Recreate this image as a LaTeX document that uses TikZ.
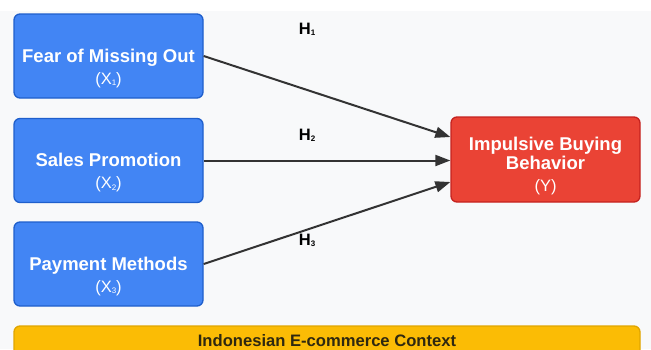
\documentclass[tikz,border=0pt]{standalone}
\usepackage{fontspec}
\setmainfont{Liberation Sans}
\usetikzlibrary{arrows.meta}
\definecolor{pagebg}{HTML}{F8F9FA}
\definecolor{varfill}{HTML}{4285F4}
\definecolor{vardraw}{HTML}{1F5FCC}
\definecolor{depfill}{HTML}{EA4335}
\definecolor{depdraw}{HTML}{C5221F}
\definecolor{ctxfill}{HTML}{FBBC05}
\definecolor{ctxdraw}{HTML}{E0A500}
\definecolor{ctxtext}{HTML}{2E2810}
\definecolor{arrowgray}{HTML}{333333}
\newcommand{\lowidx}[1]{\raisebox{-1.5pt}{\fontsize{8}{8}\selectfont #1}}

\begin{document}
\begin{tikzpicture}[x=1pt,y=-1pt,
  box/.style={rounded corners=6pt,line width=1.3pt,inner sep=0pt,
    minimum width=189pt,minimum height=84pt},
  varbox/.style={box,fill=varfill,draw=vardraw},
  depbox/.style={box,fill=depfill,draw=depdraw,minimum height=85pt},
  ctxbox/.style={box,fill=ctxfill,draw=ctxdraw,minimum width=626pt,minimum height=34pt},
  ttl/.style={anchor=base,inner sep=0pt,text=white,
    font=\fontsize{18.5}{19}\selectfont\bfseries},
  sym/.style={anchor=base,inner sep=0pt,text=white,font=\fontsize{16.5}{18}\selectfont},
  hyp/.style={anchor=base west,inner sep=0pt,text=black,
    font=\fontsize{16.5}{18}\selectfont\bfseries},
  arr/.style={draw=arrowgray,line width=2pt,-{Triangle[length=15pt,width=11pt]}}]

  \useasboundingbox (0,0) rectangle (651,349);
  \fill[white] (0,0) rectangle (651,349);
  \fill[pagebg] (0,11) rectangle (651,349);

  % boxes
  \node[varbox] (fomo)  at (108.5,56)    {};
  \node[varbox] (promo) at (108.5,160.5) {};
  \node[varbox] (pay)   at (108.5,264)   {};
  \node[depbox] (ibb)   at (545.5,159.5) {};
  \node[ctxbox] (ctx)   at (327,343)     {};

  % box texts
  \node[ttl] (fomo-t)  at ([yshift=-6pt]fomo.center)   {Fear of Missing Out};
  \node[sym] (fomo-s)  at ([yshift=-28pt]fomo.center)  {(X\lowidx{1})};
  \node[ttl] (promo-t) at ([yshift=-6pt]promo.center)  {Sales Promotion};
  \node[sym] (promo-s) at ([yshift=-28pt]promo.center) {(X\lowidx{2})};
  \node[ttl] (pay-t)   at ([yshift=-6pt]pay.center)    {Payment Methods};
  \node[sym] (pay-s)   at ([yshift=-28pt]pay.center)   {(X\lowidx{3})};
  \node[ttl,anchor=center,align=center] (ibb-t) at ([yshift=6.5pt]ibb.center)
    {Impulsive Buying\\Behavior};
  \node[sym] (ibb-s)   at ([yshift=-31.5pt]ibb.center) {(Y)};
  \node[anchor=base,inner sep=0pt,text=ctxtext,font=\fontsize{16.6}{18}\selectfont\bfseries]
    (ctx-t) at ([yshift=-3.5pt]ctx.center) {Indonesian E-commerce Context};

  % paths
  \draw[arr] (fomo.east)  -- ([yshift=22.5pt]ibb.west);
  \draw[arr] (promo.east) -- (promo.east -| ibb.west);
  \draw[arr] (pay.east)   -- ([yshift=-22.5pt]ibb.west);

  \node[hyp] (h1) at ([shift={(95,-22)}]fomo.east)    {H\lowidx{1}};
  \node[hyp] (h2) at ([shift={(95,-20.5)}]promo.east) {H\lowidx{2}};
  \node[hyp] (h3) at ([shift={(95,-19)}]pay.east)     {H\lowidx{3}};
\end{tikzpicture}
\end{document}
